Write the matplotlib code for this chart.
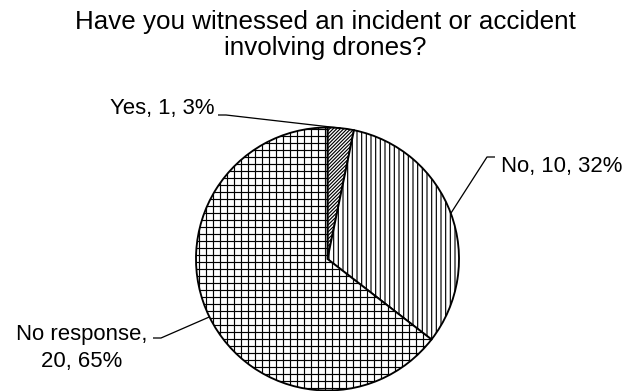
import numpy as np
import matplotlib
matplotlib.use("Agg")
import matplotlib.pyplot as plt

plt.rcParams['font.family'] = ['Liberation Sans', 'DejaVu Sans']
plt.rcParams['hatch.color'] = '#333333'
plt.rcParams['hatch.linewidth'] = 1.0

categories = ["Yes", "No", "No response"]
counts = [1, 10, 20]
hatches = ["////////", "|||", "++"]

W, H, DPI = 633, 391, 84
fig = plt.figure(figsize=(W / DPI, H / DPI), dpi=DPI)
ax = fig.add_axes([0, 0, 1, 1])

cx, cy, r = 327.5, H - 259, 131.5
wedges, _ = ax.pie(counts, center=(cx, cy), radius=r, startangle=90,
                   counterclock=False, frame=True,
                   wedgeprops=dict(facecolor='white', edgecolor='black', linewidth=1.6))
for w, h in zip(wedges, hatches):
    w.set_hatch(h)
ax.set_xlim(0, W)
ax.set_ylim(0, H)
ax.set_aspect('equal')
ax.axis('off')

total = sum(counts)
labels = [f"{c}, {n}, {round(100 * n / total)}%" for c, n in zip(categories, counts)]
labels[2] = labels[2].replace("response, ", "response,\n")

# leader: short horizontal tick next to the text, then a straight run to the wedge edge
ticks = [(218, 226, 115), (495, 487, 157), (153, 161, 338)]  # (text end, bend, y)
text_pos = [(214, 108.5), (501, 166.5), (82, 348)]
ha = ['right', 'left', 'center']
for w, lab, (sx, bx, by), (tx, ty), h_al in zip(wedges, labels, ticks, text_pos, ha):
    mid = np.deg2rad((w.theta1 + w.theta2) / 2)
    ex, ey = cx + r * np.cos(mid), cy + r * np.sin(mid)
    ax.plot([sx, bx, ex], [H - by, H - by, ey], color='black', lw=1.1,
            solid_capstyle='butt')
    ax.text(tx, H - ty, lab, ha=h_al, va='center', fontsize=19,
            multialignment='center', linespacing=1.4)

ax.text(325, H - 35, "Have you witnessed an incident or accident\ninvolving drones?",
        ha='center', va='center', fontsize=22.3, linespacing=1.09)

fig.savefig("out.png", dpi=DPI)
